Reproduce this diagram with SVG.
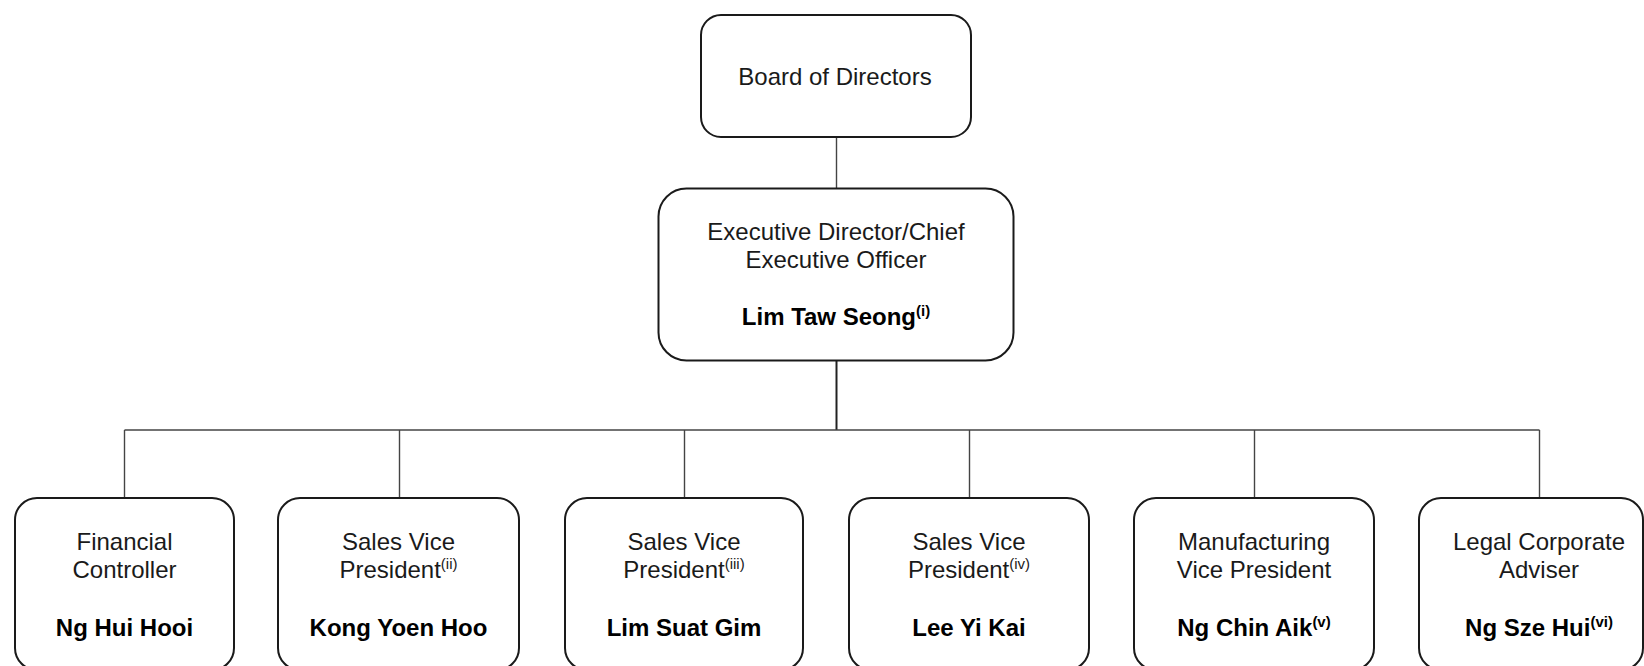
<svg xmlns="http://www.w3.org/2000/svg" width="1644" height="666" viewBox="0 0 1644 666">
<style>
.box{fill:#ffffff;stroke:#1a1a1a;stroke-width:2}
.t{font-family:"Liberation Sans",Arial,sans-serif;font-size:24px;fill:#1a1a1a;text-anchor:middle}
.b{font-weight:bold;fill:#000}
.sup{font-size:15px}
.conn{fill:none;stroke:#444;stroke-width:1.4}
.trunk{fill:none;stroke:#222;stroke-width:2}
</style>
<rect width="1644" height="666" fill="#ffffff"/>
<g id="connectors">
<line class="conn" x1="836.5" y1="137" x2="836.5" y2="188"/>
<line class="trunk" x1="836.5" y1="361" x2="836.5" y2="430"/>
<line class="conn" x1="124.5" y1="430" x2="1539.5" y2="430"/>
<line class="conn" x1="124.5" y1="430" x2="124.5" y2="498"/>
<line class="conn" x1="399.5" y1="430" x2="399.5" y2="498"/>
<line class="conn" x1="684.5" y1="430" x2="684.5" y2="498"/>
<line class="conn" x1="969.5" y1="430" x2="969.5" y2="498"/>
<line class="conn" x1="1254.5" y1="430" x2="1254.5" y2="498"/>
<line class="conn" x1="1539.5" y1="430" x2="1539.5" y2="498"/>
</g>
<g id="board">
<rect class="box" x="701" y="15" width="270" height="122" rx="20"/>
<text class="t" x="835" y="85">Board of Directors</text>
</g>
<g id="ceo">
<rect class="box" x="658.5" y="188.5" width="355" height="172" rx="28"/>
<text class="t" x="836" y="240">Executive Director/Chief</text>
<text class="t" x="836" y="268">Executive Officer</text>
<text class="t b" x="836" y="325">Lim Taw Seong<tspan class="sup" dy="-9">(i)</tspan></text>
</g>
<g id="fc">
<rect class="box" x="15" y="498" width="219" height="172" rx="22"/>
<text class="t" x="124.5" y="550">Financial</text>
<text class="t" x="124.5" y="578">Controller</text>
<text class="t b" x="124.5" y="636">Ng Hui Hooi</text>
</g>
<g id="svp2">
<rect class="box" x="278" y="498" width="241" height="172" rx="22"/>
<text class="t" x="398.5" y="550">Sales Vice</text>
<text class="t" x="398.5" y="578">President<tspan class="sup" dy="-9">(ii)</tspan></text>
<text class="t b" x="398.5" y="636">Kong Yoen Hoo</text>
</g>
<g id="svp3">
<rect class="box" x="565" y="498" width="238" height="172" rx="22"/>
<text class="t" x="684" y="550">Sales Vice</text>
<text class="t" x="684" y="578">President<tspan class="sup" dy="-9">(iii)</tspan></text>
<text class="t b" x="684" y="636">Lim Suat Gim</text>
</g>
<g id="svp4">
<rect class="box" x="849" y="498" width="240" height="172" rx="22"/>
<text class="t" x="969" y="550">Sales Vice</text>
<text class="t" x="969" y="578">President<tspan class="sup" dy="-9">(iv)</tspan></text>
<text class="t b" x="969" y="636">Lee Yi Kai</text>
</g>
<g id="mvp">
<rect class="box" x="1134" y="498" width="240" height="172" rx="22"/>
<text class="t" x="1254" y="550">Manufacturing</text>
<text class="t" x="1254" y="578">Vice President</text>
<text class="t b" x="1254" y="636">Ng Chin Aik<tspan class="sup" dy="-9">(v)</tspan></text>
</g>
<g id="legal">
<rect class="box" x="1419" y="498" width="224" height="172" rx="22"/>
<text class="t" x="1539" y="550">Legal Corporate</text>
<text class="t" x="1539" y="578">Adviser</text>
<text class="t b" x="1539" y="636">Ng Sze Hui<tspan class="sup" dy="-9">(vi)</tspan></text>
</g>
</svg>
